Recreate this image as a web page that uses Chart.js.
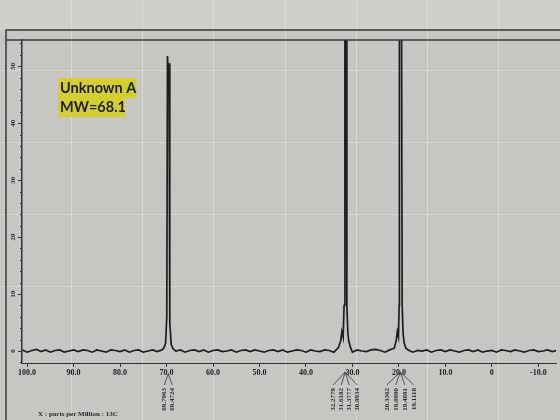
<!DOCTYPE html>
<html>
<head>
<meta charset="utf-8">
<script src="https://cdn.jsdelivr.net/npm/chart.js@4.4.1/dist/chart.umd.min.js"></script>
<style>
    html, body { margin: 0; padding: 0; background: #c9c9c5; }
    #wrap { width: 560px; height: 420px; }
</style>
</head>
<body>
<div id="wrap"><canvas id="nmr" width="560" height="420"></canvas></div>
<script>
// axis ticks (ppm along x, intensity along y)
let xTickValues = [100, 90, 80, 70, 60, 50, 40, 30, 20, 10, 0, -10];
let xTickLabels = ['100.0', '90.0', '80.0', '70.0', '60.0', '50.0', '40.0', '30.0', '20.0', '10.0', '0', '-10.0'];
let yTickValues = [0, 10, 20, 30, 40, 50];
let yTickLabels = ['0', '10', '20', '30', '40', '50'];

// baseline noise, one reading per ppm from 101 down to -14
let baselineStartPpm = 101;
let baselineNoise = [
    0.2, -0.2, 0.1, 0.3, -0.1, 0.2, -0.2, 0.1, 0.2, -0.2,
    0.0, 0.2, -0.1, 0.2, 0.1, -0.2, 0.2, 0.0, -0.2, 0.2,
    0.1, -0.1, 0.2, -0.2, 0.1, 0.2, -0.2, 0.0, 0.2, -0.1,
    0.2, -0.2, 0.1, 0.0, 0.2, -0.2, 0.1, 0.2, -0.1, 0.2,
    -0.2, 0.1, 0.2, -0.1, 0.0, 0.2, -0.2, 0.1, 0.2, -0.1,
    0.2, 0.0, -0.2, 0.1, 0.2, -0.1, 0.2, -0.2, 0.0, 0.2,
    0.1, -0.2, 0.2, 0.0, -0.1, 0.2, 0.1, -0.2, 0.2, 0.0,
    0.1, -0.2, 0.2, 0.0, -0.1, 0.2, 0.3, 0.1, -0.2, 0.2,
    0.0, 0.2, -0.1, 0.2, -0.2, 0.1, 0.0, 0.2, -0.2, 0.1,
    0.2, -0.1, 0.2, 0.0, -0.2, 0.1, 0.2, -0.1, 0.2, -0.2,
    0.0, 0.1, -0.2, 0.2, 0.1, -0.1, 0.2, 0.0, -0.2, 0.1,
    0.2, -0.1, 0.0, 0.2, -0.1, 0.1
];

// peaks (tall ones run off the top of the frame)
let peak70Ppm = [70.6, 70.2, 69.95, 69.80, 69.65, 69.47, 69.30, 69.0, 68.6];
let peak70Int = [0.5, 1.4, 6, 51.8, 49, 50.5, 5, 1.2, 0.4];
let peak31Ppm = [33.0, 32.5, 32.28, 32.0, 31.8, 31.62, 31.5, 31.38, 31.2, 30.99, 30.8, 30.4];
let peak31Int = [0.6, 1.9, 3.4, 2.4, 8, 80, 75, 80, 8, 3.2, 1.8, 0.6];
let peak20Ppm = [21.0, 20.6, 20.34, 20.1, 19.95, 19.89, 19.7, 19.49, 19.3, 19.11, 18.9, 18.5];
let peak20Int = [0.5, 1.8, 3.4, 2.5, 8, 80, 75, 80, 8, 3.2, 1.5, 0.5];

// peak-pick labels printed under the axis
let pick70 = ['69.7963', '69.4724'];
let pick31 = ['32.2779', '31.6182', '31.3777', '30.9934'];
let pick20 = ['20.3362', '19.8890', '19.4881', '19.1118'];

// faint grid of the photographed screen
let screenGridPpm = [90.5, 75.2, 59.9, 44.6, 29.3, 14.0, -1.3];
let screenGridInt = [49.3, 36.7, 24.1, 11.5];

let buildSpectrum = () => {
    let peaks = [
        [peak70Ppm, peak70Int],
        [peak31Ppm, peak31Int],
        [peak20Ppm, peak20Int]
    ];
    let pts = [];
    baselineNoise.forEach((v, i) => {
        let ppm = baselineStartPpm - i;
        let inPeak = peaks.some((p) => ppm <= p[0][0] + 0.1 && ppm >= p[0][p[0].length - 1] - 0.1);
        if (!inPeak) pts.push({ x: ppm, y: v });
    });
    peaks.forEach((p) => {
        p[0].forEach((ppm, i) => pts.push({ x: ppm, y: p[1][i] }));
    });
    pts.sort((a, b) => b.x - a.x);
    return pts;
};

let backdrop = {
    id: 'backdrop',
    beforeDraw: (chart) => {
        let ctx = chart.ctx;
        let x = chart.scales.x, y = chart.scales.y;
        ctx.save();
        ctx.fillStyle = '#c6c6c2';
        ctx.fillRect(0, 0, chart.width, chart.height);
        ctx.fillStyle = '#cfcfcb';
        ctx.fillRect(0, 0, chart.width, 30);
        ctx.strokeStyle = 'rgba(232,232,228,0.55)';
        ctx.lineWidth = 1;
        screenGridPpm.forEach((v) => {
            let px = Math.round(x.getPixelForValue(v)) + 0.5;
            ctx.beginPath(); ctx.moveTo(px, 0); ctx.lineTo(px, chart.height); ctx.stroke();
        });
        screenGridInt.forEach((v) => {
            let py = Math.round(y.getPixelForValue(v)) + 0.5;
            ctx.beginPath(); ctx.moveTo(0, py); ctx.lineTo(chart.width, py); ctx.stroke();
        });
        ctx.restore();
    }
};

let decorations = {
    id: 'decorations',
    afterDraw: (chart) => {
        let ctx = chart.ctx;
        let area = chart.chartArea;
        let x = chart.scales.x, y = chart.scales.y;
        ctx.save();

        // screen frame and top rule of the plot
        ctx.strokeStyle = '#3a3a3a';
        ctx.lineWidth = 1.5;
        ctx.beginPath();
        ctx.moveTo(6, chart.height); ctx.lineTo(6, 30); ctx.lineTo(chart.width, 30);
        ctx.moveTo(6, area.top); ctx.lineTo(chart.width, area.top);
        ctx.stroke();

        // y minor ticks and rotated labels
        ctx.lineWidth = 1;
        ctx.strokeStyle = '#333';
        for (let v = -2; v <= 54; v += 2) {
            let py = Math.round(y.getPixelForValue(v)) + 0.5;
            ctx.beginPath(); ctx.moveTo(area.left - 2, py); ctx.lineTo(area.left, py); ctx.stroke();
        }
        ctx.fillStyle = '#2a2a2a';
        ctx.font = 'bold 7px "Liberation Serif"';
        ctx.textAlign = 'center';
        ctx.textBaseline = 'middle';
        yTickValues.forEach((v, i) => {
            ctx.save();
            ctx.translate(area.left - 9, y.getPixelForValue(v));
            ctx.rotate(-Math.PI / 2);
            ctx.fillText(yTickLabels[i], 0, 0);
            ctx.restore();
        });

        // peak-pick fans and labels
        let axisY = area.bottom;
        [[pick70, 8, 11], [pick31, 8, 9], [pick20, 9, 9]].forEach((g) => {
            let labels = g[0], gap = g[1];
            let vals = labels.map(parseFloat);
            let mid = vals.reduce((a, b) => a + b, 0) / vals.length;
            let cx = x.getPixelForValue(mid);
            ctx.strokeStyle = '#333';
            ctx.lineWidth = 0.8;
            labels.forEach((txt, i) => {
                let lx = cx + (i - (labels.length - 1) / 2) * gap;
                ctx.beginPath();
                ctx.moveTo(cx, axisY + g[2]);
                ctx.lineTo(lx, axisY + 22);
                ctx.stroke();
                ctx.save();
                ctx.translate(lx, axisY + 25);
                ctx.rotate(-Math.PI / 2);
                ctx.textAlign = 'right';
                ctx.textBaseline = 'middle';
                ctx.font = 'bold 7px "Liberation Serif"';
                ctx.fillText(txt, 0, 0);
                ctx.restore();
            });
        });

        // axis caption
        ctx.textAlign = 'left';
        ctx.textBaseline = 'middle';
        ctx.font = 'bold 7px "Liberation Serif"';
        ctx.fillText('X : parts per Million : 13C', 38, 414);

        // highlighted sample note
        ctx.fillStyle = '#d5cf2e';
        ctx.fillRect(58, 78, 78, 20);
        ctx.fillRect(58, 98, 67, 19);
        ctx.fillStyle = '#1c1c1c';
        ctx.font = 'bold 14.5px Lato';
        ctx.fillText('Unknown A', 60, 88);
        ctx.fillText('MW=68.1', 60, 107.5);

        ctx.restore();
    }
};

let ctx = document.getElementById('nmr').getContext('2d');
let chart = new Chart(ctx, {
    type: 'line',
    data: {
        datasets: [{
            data: buildSpectrum(),
            borderColor: '#1d1d1d',
            borderWidth: 1.7,
            pointRadius: 0,
            tension: 0,
            fill: false
        }]
    },
    options: {
        responsive: false,
        animation: false,
        layout: { padding: { left: 6, top: 40, right: 4, bottom: 0 } },
        plugins: {
            legend: { display: false },
            tooltip: { enabled: false }
        },
        scales: {
            x: {
                type: 'linear',
                reverse: true,
                min: -13.8,
                max: 101.1,
                afterBuildTicks: (s) => { s.ticks = xTickValues.map((v) => ({ value: v })); },
                afterFit: (s) => { s.height = 57; },
                ticks: {
                    autoSkip: false,
                    maxRotation: 0,
                    padding: 1,
                    color: '#222',
                    font: { family: 'Liberation Serif', size: 8, weight: 'bold' },
                    callback: (v, i) => xTickLabels[i]
                },
                grid: { drawOnChartArea: false, tickLength: 4, color: '#333' },
                border: { color: '#333', width: 1, dash: [2, 2] }
            },
            y: {
                type: 'linear',
                min: -2.1,
                max: 54.6,
                afterBuildTicks: (s) => { s.ticks = yTickValues.map((v) => ({ value: v })); },
                afterFit: (s) => { s.width = 16; },
                ticks: { display: false },
                grid: { drawOnChartArea: false, tickLength: 4, color: '#333' },
                border: { color: '#333', width: 1.5 }
            }
        }
    },
    plugins: [backdrop, decorations]
});
</script>
</body>
</html>
